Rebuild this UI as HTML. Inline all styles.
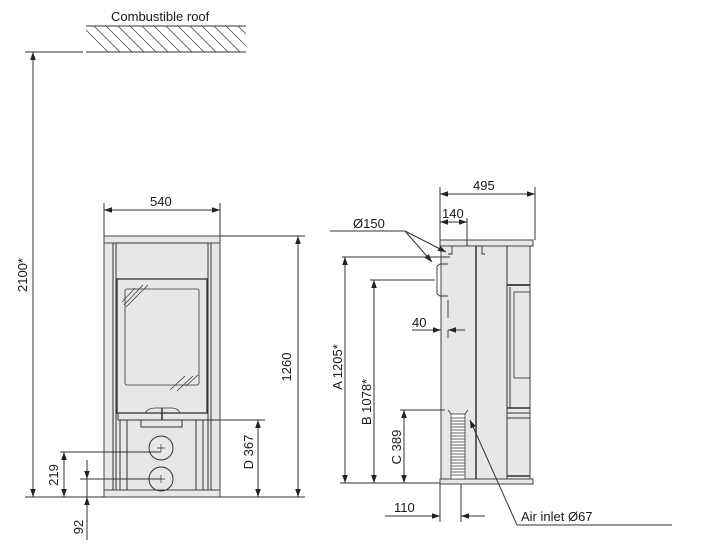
<!DOCTYPE html>
<html><head><meta charset="utf-8"><style>
html,body{margin:0;padding:0;background:#fff;}
svg{display:block;font-family:"Liberation Sans",sans-serif;}
text{font-size:13px;fill:#1a1a1a;}
</style></head><body>
<svg width="701" height="560" viewBox="0 0 701 560" xmlns="http://www.w3.org/2000/svg">
<defs>
<marker id="a" viewBox="0 0 10 10" refX="10" refY="5" markerWidth="8" markerHeight="8" orient="auto-start-reverse" markerUnits="userSpaceOnUse"><path d="M0,1.5 L10,5 L0,8.5 z" fill="#222"/></marker>
</defs>
<g stroke="#333" stroke-width="1" fill="none">
<line x1="86" y1="26" x2="246" y2="26"/>
<line x1="86" y1="52" x2="246" y2="52"/>
<g stroke-width="0.7">
<path d="M86,30 L108,52 M94,26 L120,52 M106,26 L132,52 M118,26 L144,52 M130,26 L156,52 M142,26 L168,52 M154,26 L180,52 M166,26 L192,52 M178,26 L204,52 M190,26 L216,52 M202,26 L228,52 M214,26 L240,52 M226,26 L246,46 M238,26 L246,34"/>
</g>
<line x1="25" y1="52" x2="83" y2="52"/>
<line x1="25" y1="497" x2="104" y2="497"/>
<line x1="33" y1="52" x2="33" y2="497" marker-start="url(#a)" marker-end="url(#a)"/>
<g fill="#e6e7e8" stroke="#444">
<rect x="104" y="236" width="116" height="261"/>
<rect x="104" y="236" width="116" height="7"/>
<rect x="104" y="490" width="116" height="7"/>
</g>
<line x1="113" y1="243" x2="113" y2="490"/><line x1="116" y1="243" x2="116" y2="490"/>
<line x1="208" y1="243" x2="208" y2="490"/><line x1="211" y1="243" x2="211" y2="490"/>
<rect x="116" y="243" width="92" height="36" fill="#e6e7e8"/>
<rect x="117" y="279" width="90" height="134" fill="#e6e7e8" stroke-width="1.3"/>
<rect x="125" y="289" width="74" height="96" rx="2" stroke-width="0.8"/>
<path d="M122,302 L135,288 M124,305 L143,285 M126,307 L148,285 M170,390 L185,376 M177,391 L193,376 M186,386 L198,375" stroke-width="0.7"/>
<rect x="118" y="413" width="90" height="7"/>
<path d="M145,413 Q148,408 155,408 L172,408 Q178,408 180,413" stroke-width="0.8"/>
<line x1="162" y1="408" x2="162" y2="420" stroke-width="1.5"/>
<rect x="141" y="420" width="41" height="7"/>
<line x1="120" y1="420" x2="120" y2="490"/><line x1="127" y1="420" x2="127" y2="490"/>
<line x1="196" y1="420" x2="196" y2="490"/><line x1="203" y1="420" x2="203" y2="490"/>
<circle cx="161" cy="448" r="12"/><circle cx="161" cy="479" r="12"/>
<path d="M157,448 h8 M161,444 v8 M157,479 h8 M161,475 v8" stroke-width="0.7"/>
<line x1="104" y1="203" x2="104" y2="236"/><line x1="220" y1="203" x2="220" y2="236"/>
<line x1="104" y1="210" x2="220" y2="210" marker-start="url(#a)" marker-end="url(#a)"/>
<line x1="220" y1="236" x2="305" y2="236"/>
<line x1="220" y1="497" x2="305" y2="497"/>
<line x1="298" y1="236" x2="298" y2="497" marker-start="url(#a)" marker-end="url(#a)"/>
<line x1="208" y1="420" x2="265" y2="420"/>
<line x1="258" y1="420" x2="258" y2="497" marker-start="url(#a)" marker-end="url(#a)"/>
<line x1="60" y1="452" x2="161" y2="452"/>
<line x1="80" y1="479" x2="161" y2="479"/>
<line x1="64" y1="452" x2="64" y2="497" marker-start="url(#a)" marker-end="url(#a)"/>
<line x1="87" y1="460" x2="87" y2="479" marker-end="url(#a)"/>
<line x1="87" y1="540" x2="87" y2="497" marker-end="url(#a)"/>
<line x1="87" y1="479" x2="87" y2="497"/>
<g fill="#e6e7e8" stroke="#444">
<rect x="441" y="246" width="89" height="233"/>
<rect x="440" y="240" width="93" height="6"/>
<rect x="440" y="479" width="93" height="5"/>
</g>
<line x1="476" y1="246" x2="476" y2="479" stroke-width="1.5"/>
<line x1="507" y1="246" x2="507" y2="479"/>
<line x1="507" y1="285" x2="530" y2="285" stroke-width="1.8"/>
<line x1="510" y1="287" x2="510" y2="408"/>
<rect x="514" y="292" width="16" height="86" stroke-width="0.8"/>
<line x1="507" y1="408" x2="530" y2="408" stroke-width="1.5"/>
<line x1="507" y1="413" x2="530" y2="413"/>
<line x1="507" y1="418" x2="530" y2="418"/>
<line x1="507" y1="476" x2="530" y2="476" stroke-width="1.5"/>
<path d="M448,254 L452,254 L452,246 M476,246 L482,246 L482,254 L485,254" stroke-width="0.9"/>
<path d="M448,264 L440,264 L437,266 L437,294 L440,296 L448,296 M448,300 L448,318 M448,330 L448,338" stroke-width="0.9"/>
<path d="M448,410 L451,414 L465,414 L468,410" stroke-width="0.8"/>
<rect x="451" y="414" width="14" height="65" fill="#fff" stroke="#444" stroke-width="0.8"/>
<g stroke="#333" stroke-width="0.7">
<path d="M451,418 h14 M451,421 h14 M451,424 h14 M451,427 h14 M451,430 h14 M451,433 h14 M451,436 h14 M451,439 h14 M451,442 h14 M451,445 h14 M451,448 h14 M451,451 h14 M451,454 h14 M451,457 h14 M451,460 h14 M451,463 h14 M451,466 h14 M451,469 h14 M451,472 h14 M451,475 h14"/>
</g>
<line x1="440" y1="187" x2="440" y2="240"/><line x1="535" y1="187" x2="535" y2="240"/>
<line x1="440" y1="194" x2="535" y2="194" marker-start="url(#a)" marker-end="url(#a)"/>
<line x1="467" y1="218" x2="467" y2="246"/>
<line x1="440" y1="222" x2="467" y2="222" marker-start="url(#a)" marker-end="url(#a)"/>
<line x1="330" y1="231" x2="405" y2="231"/>
<line x1="405" y1="231" x2="446" y2="252" marker-end="url(#a)"/>
<line x1="405" y1="231" x2="432" y2="262" marker-end="url(#a)"/>
<line x1="342" y1="257" x2="450" y2="257"/>
<line x1="370" y1="280" x2="435" y2="280"/>
<line x1="400" y1="410" x2="445" y2="410"/>
<line x1="340" y1="483" x2="440" y2="483"/>
<line x1="345" y1="257" x2="345" y2="483" marker-start="url(#a)" marker-end="url(#a)"/>
<line x1="374" y1="280" x2="374" y2="483" marker-start="url(#a)" marker-end="url(#a)"/>
<line x1="404" y1="410" x2="404" y2="483" marker-start="url(#a)" marker-end="url(#a)"/>
<line x1="412" y1="330" x2="441" y2="330" marker-end="url(#a)"/>
<line x1="465" y1="330" x2="448" y2="330" marker-end="url(#a)"/>
<line x1="440" y1="484" x2="440" y2="522"/><line x1="461" y1="484" x2="461" y2="522"/>
<line x1="385" y1="516" x2="440" y2="516" marker-end="url(#a)"/>
<line x1="485" y1="516" x2="461" y2="516" marker-end="url(#a)"/>
<line x1="517" y1="525" x2="470" y2="420" marker-end="url(#a)"/>
<line x1="517" y1="525" x2="672" y2="525"/>
</g>
<text x="111" y="21">Combustible roof</text>
<text x="150" y="206">540</text>
<text transform="translate(291,367) rotate(-90)" text-anchor="middle">1260</text>
<text transform="translate(27,275) rotate(-90)" text-anchor="middle">2100*</text>
<text transform="translate(253,452) rotate(-90)" text-anchor="middle">D 367</text>
<text transform="translate(58,475) rotate(-90)" text-anchor="middle">219</text>
<text transform="translate(83,527) rotate(-90)" text-anchor="middle">92</text>
<text x="473" y="190">495</text>
<text x="442" y="218">140</text>
<text x="353" y="228">Ø150</text>
<text transform="translate(342,367) rotate(-90)" text-anchor="middle">A 1205*</text>
<text transform="translate(371,402) rotate(-90)" text-anchor="middle">B 1078*</text>
<text transform="translate(401,447) rotate(-90)" text-anchor="middle">C 389</text>
<text x="412" y="327">40</text>
<text x="394" y="512">110</text>
<text x="521" y="521">Air inlet Ø67</text>
</svg>
</body></html>
